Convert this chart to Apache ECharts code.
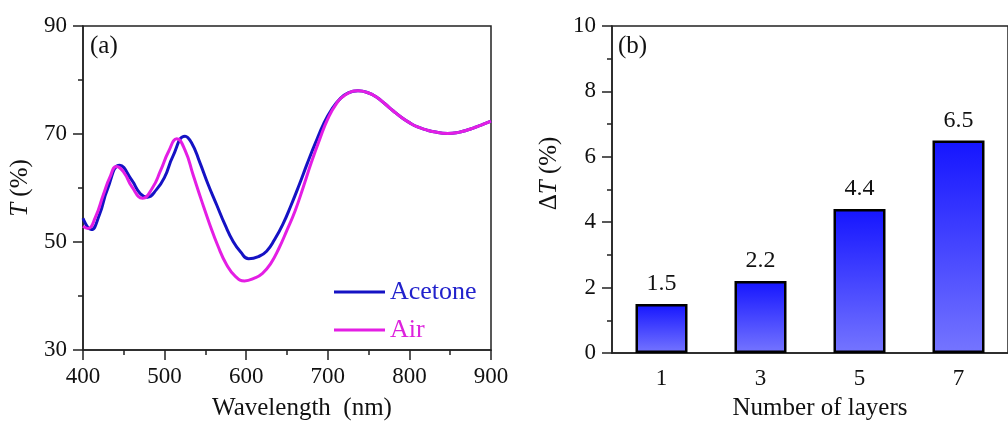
<!DOCTYPE html>
<html>
<head>
<meta charset="utf-8">
<script src="https://cdn.jsdelivr.net/npm/echarts@6/dist/echarts.min.js"></script>
<style>
  html, body { margin: 0; padding: 0; background: #fff; }
  #main { width: 1008px; height: 426px; }
</style>
</head>
<body>
<div id="main"></div>
<script>
// (a) transmission spectra, wavelength in nm (points include the peaks and dips)
const acetoneWl = [400, 410, 420, 430, 445, 460, 470, 479, 490, 500, 510, 525, 533, 543, 553, 564, 574, 584, 593, 603, 615, 625, 635, 645, 655, 665, 675, 685, 695, 705, 715, 725, 737, 750, 760, 770, 780, 790, 800, 810, 820, 830, 847, 860, 870, 880, 890, 900];
const acetoneT = [54.4, 52.3, 55.0, 59.8, 64.2, 61.4, 59.0, 58.3, 59.7, 62.0, 65.8, 69.6, 68.4, 64.8, 60.8, 56.8, 53.2, 50.1, 48.2, 46.9, 47.3, 48.3, 50.5, 53.3, 56.8, 60.6, 64.6, 68.4, 71.9, 74.6, 76.5, 77.6, 78.0, 77.6, 76.8, 75.6, 74.3, 73.1, 72.1, 71.3, 70.8, 70.4, 70.1, 70.3, 70.7, 71.2, 71.8, 72.4];
const airWl = [400, 406, 415, 425, 433, 441, 450, 460, 473, 485, 495, 505, 515, 525, 535, 545, 555, 565, 576, 587, 598, 610, 620, 630, 640, 650, 660, 670, 680, 690, 700, 710, 720, 737, 750, 760, 770, 780, 790, 800, 810, 820, 830, 847, 860, 870, 880, 890, 900];
const airT = [52.9, 52.5, 54.5, 58.8, 62.0, 64.0, 62.9, 60.2, 58.1, 60.0, 63.2, 66.8, 69.1, 67.0, 62.4, 57.8, 53.4, 49.4, 45.8, 43.6, 42.8, 43.3, 44.2, 46.0, 48.8, 52.2, 55.8, 60.2, 64.8, 69.0, 72.8, 75.5, 77.1, 78.0, 77.6, 76.8, 75.6, 74.3, 73.1, 72.1, 71.3, 70.8, 70.4, 70.1, 70.3, 70.7, 71.2, 71.8, 72.4];

// (b) change of transmission vs number of layers
const layers = ['1', '3', '5', '7'];
const deltaT = [1.5, 2.2, 4.4, 6.5];

const serif = 'Liberation Serif, Times New Roman, serif';
const axisColor = '#222';

function pairs(xs, ys) {
  return xs.map((x, i) => [x, ys[i]]);
}

const chart = echarts.init(document.getElementById('main'));
const option = {
  backgroundColor: '#fff',
  animation: false,
  textStyle: { fontFamily: serif, color: '#111' },
  grid: [
    { left: 83, top: 26, width: 408, height: 327, show: true, borderColor: axisColor, borderWidth: 1.5 },
    { left: 612, top: 26, width: 410, height: 327, show: true, borderColor: axisColor, borderWidth: 1.5 }
  ],
  xAxis: [
    {
      gridIndex: 0, type: 'value', min: 400, max: 900, interval: 100,
      name: 'Wavelength  (nm)', nameLocation: 'middle', nameGap: 46,
      nameTextStyle: { fontFamily: serif, fontSize: 25, color: '#111', padding: [0, 0, 0, 30] },
      axisLine: { lineStyle: { color: axisColor, width: 1.5 } },
      axisTick: { length: 10, lineStyle: { color: axisColor, width: 1.5 } },
      minorTick: { show: true, splitNumber: 2, length: 5, lineStyle: { color: axisColor, width: 1.5 } },
      axisLabel: { fontFamily: serif, fontSize: 23, color: '#111', margin: 15 },
      splitLine: { show: false }
    },
    {
      gridIndex: 1, type: 'category', data: layers,
      name: 'Number of layers', nameLocation: 'middle', nameGap: 43,
      nameTextStyle: { fontFamily: serif, fontSize: 25, color: '#111', padding: [0, 0, 0, 20] },
      axisLine: { lineStyle: { color: axisColor, width: 1.5 } },
      axisTick: { show: false },
      axisLabel: { fontFamily: serif, fontSize: 23, color: '#111', margin: 14 }
    }
  ],
  yAxis: [
    {
      gridIndex: 0, type: 'value', min: 30, max: 90, interval: 20,
      name: '{i|T} (%)', nameLocation: 'middle', nameGap: 50,
      nameTextStyle: {
        fontFamily: serif, fontSize: 25, color: '#111',
        rich: { i: { fontFamily: serif, fontSize: 25, fontStyle: 'italic', color: '#111' } }
      },
      axisLine: { show: true, lineStyle: { color: axisColor, width: 1.5 } },
      axisTick: { show: true, length: 10, lineStyle: { color: axisColor, width: 1.5 } },
      minorTick: { show: true, splitNumber: 2, length: 5, lineStyle: { color: axisColor, width: 1.5 } },
      axisLabel: { fontFamily: serif, fontSize: 23, color: '#111', margin: 16 },
      splitLine: { show: false }
    },
    {
      gridIndex: 1, type: 'value', min: 0, max: 10, interval: 2,
      name: 'Δ{i|T} (%)', nameLocation: 'middle', nameGap: 50,
      nameTextStyle: {
        fontFamily: serif, fontSize: 25, color: '#111', padding: [0, 0, 0, 32],
        rich: { i: { fontFamily: serif, fontSize: 25, fontStyle: 'italic', color: '#111' } }
      },
      axisLine: { show: true, lineStyle: { color: axisColor, width: 1.5 } },
      axisTick: { show: true, length: 10, lineStyle: { color: axisColor, width: 1.5 } },
      minorTick: { show: true, splitNumber: 2, length: 5, lineStyle: { color: axisColor, width: 1.5 } },
      axisLabel: { fontFamily: serif, fontSize: 23, color: '#111', margin: 16 },
      splitLine: { show: false }
    }
  ],
  legend: {
    orient: 'vertical', left: 329, top: 274,
    icon: 'rect', itemWidth: 51, itemHeight: 3, itemGap: 12,
    textStyle: { fontFamily: serif, fontSize: 26, lineHeight: 26 },
    data: [
      { name: 'Acetone', textStyle: { color: '#2222cc' } },
      { name: 'Air', textStyle: { color: '#dd22dd' } }
    ]
  },
  series: [
    {
      name: 'Air', type: 'line', xAxisIndex: 0, yAxisIndex: 0,
      data: pairs(airWl, airT), smooth: 0.5, symbol: 'none',
      lineStyle: { color: '#e41ee4', width: 3 }, itemStyle: { color: '#e41ee4' }, z: 3
    },
    {
      name: 'Acetone', type: 'line', xAxisIndex: 0, yAxisIndex: 0,
      data: pairs(acetoneWl, acetoneT), smooth: 0.5, symbol: 'none',
      lineStyle: { color: '#1512c4', width: 3 }, itemStyle: { color: '#1512c4' }, z: 2
    },
    {
      type: 'bar', xAxisIndex: 1, yAxisIndex: 1, data: deltaT, barWidth: 52,
      itemStyle: {
        borderColor: '#000', borderWidth: 2.5,
        color: new echarts.graphic.LinearGradient(0, 0, 0, 1, [
          { offset: 0, color: '#1515ff' },
          { offset: 1, color: '#7575ff' }
        ])
      },
      label: { show: true, position: 'top', distance: 8, fontFamily: serif, fontSize: 24, color: '#111' }
    }
  ],
  graphic: [
    { type: 'text', left: 90, top: 34, style: { text: '(a)', fontFamily: serif, fontSize: 25, fill: '#111' } },
    { type: 'text', left: 618, top: 34, style: { text: '(b)', fontFamily: serif, fontSize: 25, fill: '#111' } }
  ]
};
option && chart.setOption(option);
</script>
</body>
</html>
